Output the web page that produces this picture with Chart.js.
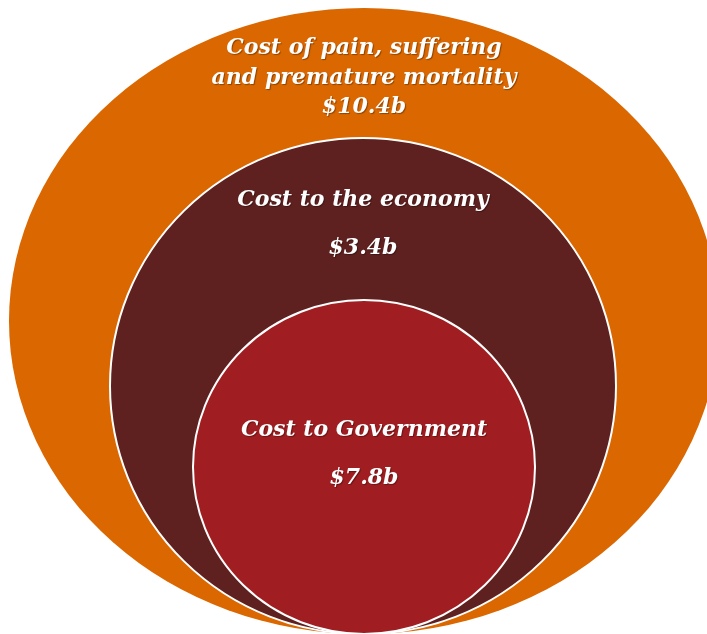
<!DOCTYPE html>
<html>
<head>
<meta charset="utf-8">
<script src="https://cdn.jsdelivr.net/npm/chart.js@4.4.1/dist/chart.umd.min.js"></script>
<style>
  html, body { margin: 0; padding: 0; background: #fff; }
  #wrap { width: 707px; height: 634px; }
</style>
</head>
<body>
<div id="wrap"><canvas id="rings" width="707" height="634"></canvas></div>
<script>
// data
const titles = [
  ["Cost of pain, suffering", "and premature mortality"],
  ["Cost to the economy"],
  ["Cost to Government"]
];
const values = [10.4, 3.4, 7.8];

// layout (in axis units, axes run 0..707 and 0..634 top-down)
const centersX = [364, 363, 364];
const centersY = [321, 386, 467];
const radiiX = [355, 253, 171];
const radiiY = [313, 248, 167];
const fills = ["#da6700", "#5f2120", "#a01e21"];
const edges = [null, "#ffffff", "#ffffff"];
const titleY = [48, 200, 430];
const valueY = [107, 248, 478];
const lineGap = 30;

const ctx = document.getElementById("rings").getContext("2d");

// draws the nested ellipses through the scales
const ringsPlugin = {
  id: "rings",
  beforeDatasetsDraw(chart) {
    const c = chart.ctx;
    const xs = chart.scales.x;
    const ys = chart.scales.y;
    for (let i = 0; i < values.length; i++) {
      const px = xs.getPixelForValue(centersX[i]);
      const py = ys.getPixelForValue(centersY[i]);
      const rx = Math.abs(xs.getPixelForValue(centersX[i] + radiiX[i]) - px);
      const ry = Math.abs(ys.getPixelForValue(centersY[i] + radiiY[i]) - py);
      c.save();
      c.beginPath();
      c.ellipse(px, py, rx, ry, 0, 0, Math.PI * 2);
      c.fillStyle = fills[i];
      c.fill();
      if (edges[i]) {
        c.lineWidth = 2;
        c.strokeStyle = edges[i];
        c.stroke();
      }
      c.restore();
    }
  },
  afterDatasetsDraw(chart) {
    const c = chart.ctx;
    const xs = chart.scales.x;
    const ys = chart.scales.y;
    c.save();
    c.fillStyle = "#ffffff";
    c.textAlign = "center";
    c.textBaseline = "middle";
    c.font = "italic bold 22px 'DejaVu Serif', serif";
    c.shadowColor = "rgba(0,0,0,0.35)";
    c.shadowOffsetX = 1;
    c.shadowOffsetY = 1;
    c.shadowBlur = 1;
    for (let i = 0; i < values.length; i++) {
      const px = xs.getPixelForValue(centersX[i]);
      titles[i].forEach(function (line, k) {
        c.fillText(line, px, ys.getPixelForValue(titleY[i] + k * lineGap));
      });
      c.fillText("$" + values[i] + "b", px, ys.getPixelForValue(valueY[i]));
    }
    c.restore();
  }
};

const chart = new Chart(ctx, {
  type: "scatter",
  data: {
    datasets: [{
      data: centersX.map(function (x, i) { return { x: x, y: centersY[i] }; }),
      pointRadius: 0,
      pointHoverRadius: 0
    }]
  },
  options: {
    responsive: false,
    animation: false,
    layout: { padding: 0 },
    plugins: { legend: { display: false }, tooltip: { enabled: false } },
    scales: {
      x: { type: "linear", min: 0, max: 707, display: false },
      y: { type: "linear", min: 0, max: 634, reverse: true, display: false }
    }
  },
  plugins: [ringsPlugin]
});
</script>
</body>
</html>
